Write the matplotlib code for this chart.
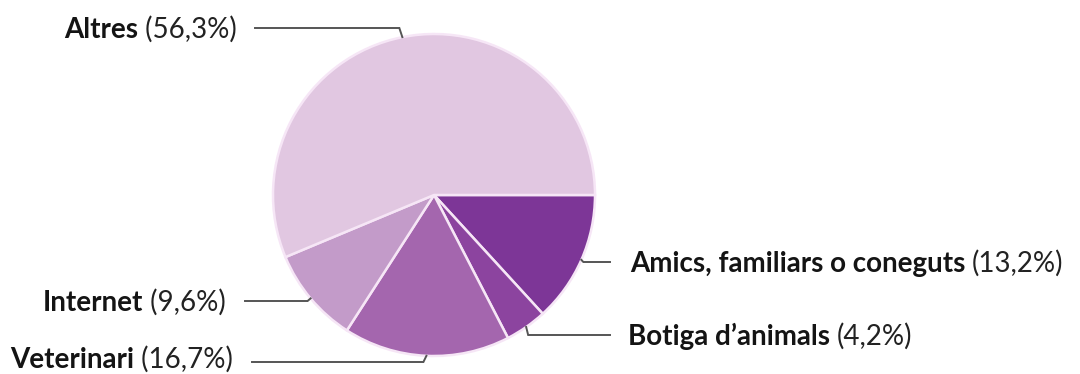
import matplotlib
matplotlib.use("Agg")
import matplotlib.pyplot as plt
import numpy as np

# Survey answers: where the pet was obtained
categories = ["Amics, familiars o coneguts", "Botiga d\u2019animals", "Veterinari", "Internet", "Altres"]
shares = [13.2, 4.2, 16.7, 9.6, 56.3]
pct_labels = ["(13,2%)", "(4,2%)", "(16,7%)", "(9,6%)", "(56,3%)"]
colors = ["#7d3697", "#8c449f", "#a466ae", "#c39bc9", "#e1c7e1"]

W, H = 1080, 374
fig = plt.figure(figsize=(W / 100, H / 100), dpi=100)
ax = fig.add_axes([0, 0, 1, 1])

cx, cy, r = 434, H - 195, 161
wedges, _ = ax.pie(shares, colors=colors, startangle=0, counterclock=False,
                   center=(cx, cy), radius=r, frame=True,
                   wedgeprops=dict(edgecolor="#f6e6f6", linewidth=1.8))
ax.set_xlim(0, W)
ax.set_ylim(0, H)
ax.set_aspect("equal")
ax.axis("off")

# label layout: (side, label line y in px, baseline drop, text anchor x, line end x)
layout = {
    "Amics, familiars o coneguts": ("right", 262, 10, 630, 610),
    "Botiga d\u2019animals": ("right", 335, 10, 628, 610),
    "Veterinari": ("left", 362, 6, 233, 252),
    "Internet": ("left", 301, 10, 226, 245),
    "Altres": ("left", 28, 10, 237, 255),
}

fs = 20
fam = ["Lato", "DejaVu Sans"]
renderer = fig.canvas.get_renderer()

for w, name, pct in zip(wedges, categories, pct_labels):
    side, ly, drop, tx, lx = layout[name]
    ang = np.deg2rad((w.theta1 + w.theta2) / 2)
    ex, ey = cx + r * np.cos(ang), cy + r * np.sin(ang)
    ly_d = H - ly
    elbow_x = ex + (-3 if side == "left" else 2)
    ax.plot([ex, elbow_x, lx], [ey, ly_d, ly_d], color="#555555", lw=1.4,
            solid_joinstyle="miter", zorder=1)
    base = ly_d - drop
    if side == "right":
        t1 = ax.text(tx, base, name + " ", fontsize=fs, fontweight="bold",
                     family=fam, color="#141414", ha="left", va="baseline")
        bb = t1.get_window_extent(renderer)
        x2 = ax.transData.inverted().transform((bb.x1, 0))[0]
        ax.text(x2, base, pct, fontsize=fs, family=fam, color="#222222",
                ha="left", va="baseline")
    else:
        t2 = ax.text(tx, base, " " + pct, fontsize=fs, family=fam, color="#222222",
                     ha="right", va="baseline")
        bb = t2.get_window_extent(renderer)
        x1 = ax.transData.inverted().transform((bb.x0, 0))[0]
        ax.text(x1, base, name, fontsize=fs, fontweight="bold", family=fam,
                color="#141414", ha="right", va="baseline")

fig.savefig("out.png", dpi=100, facecolor="white")
